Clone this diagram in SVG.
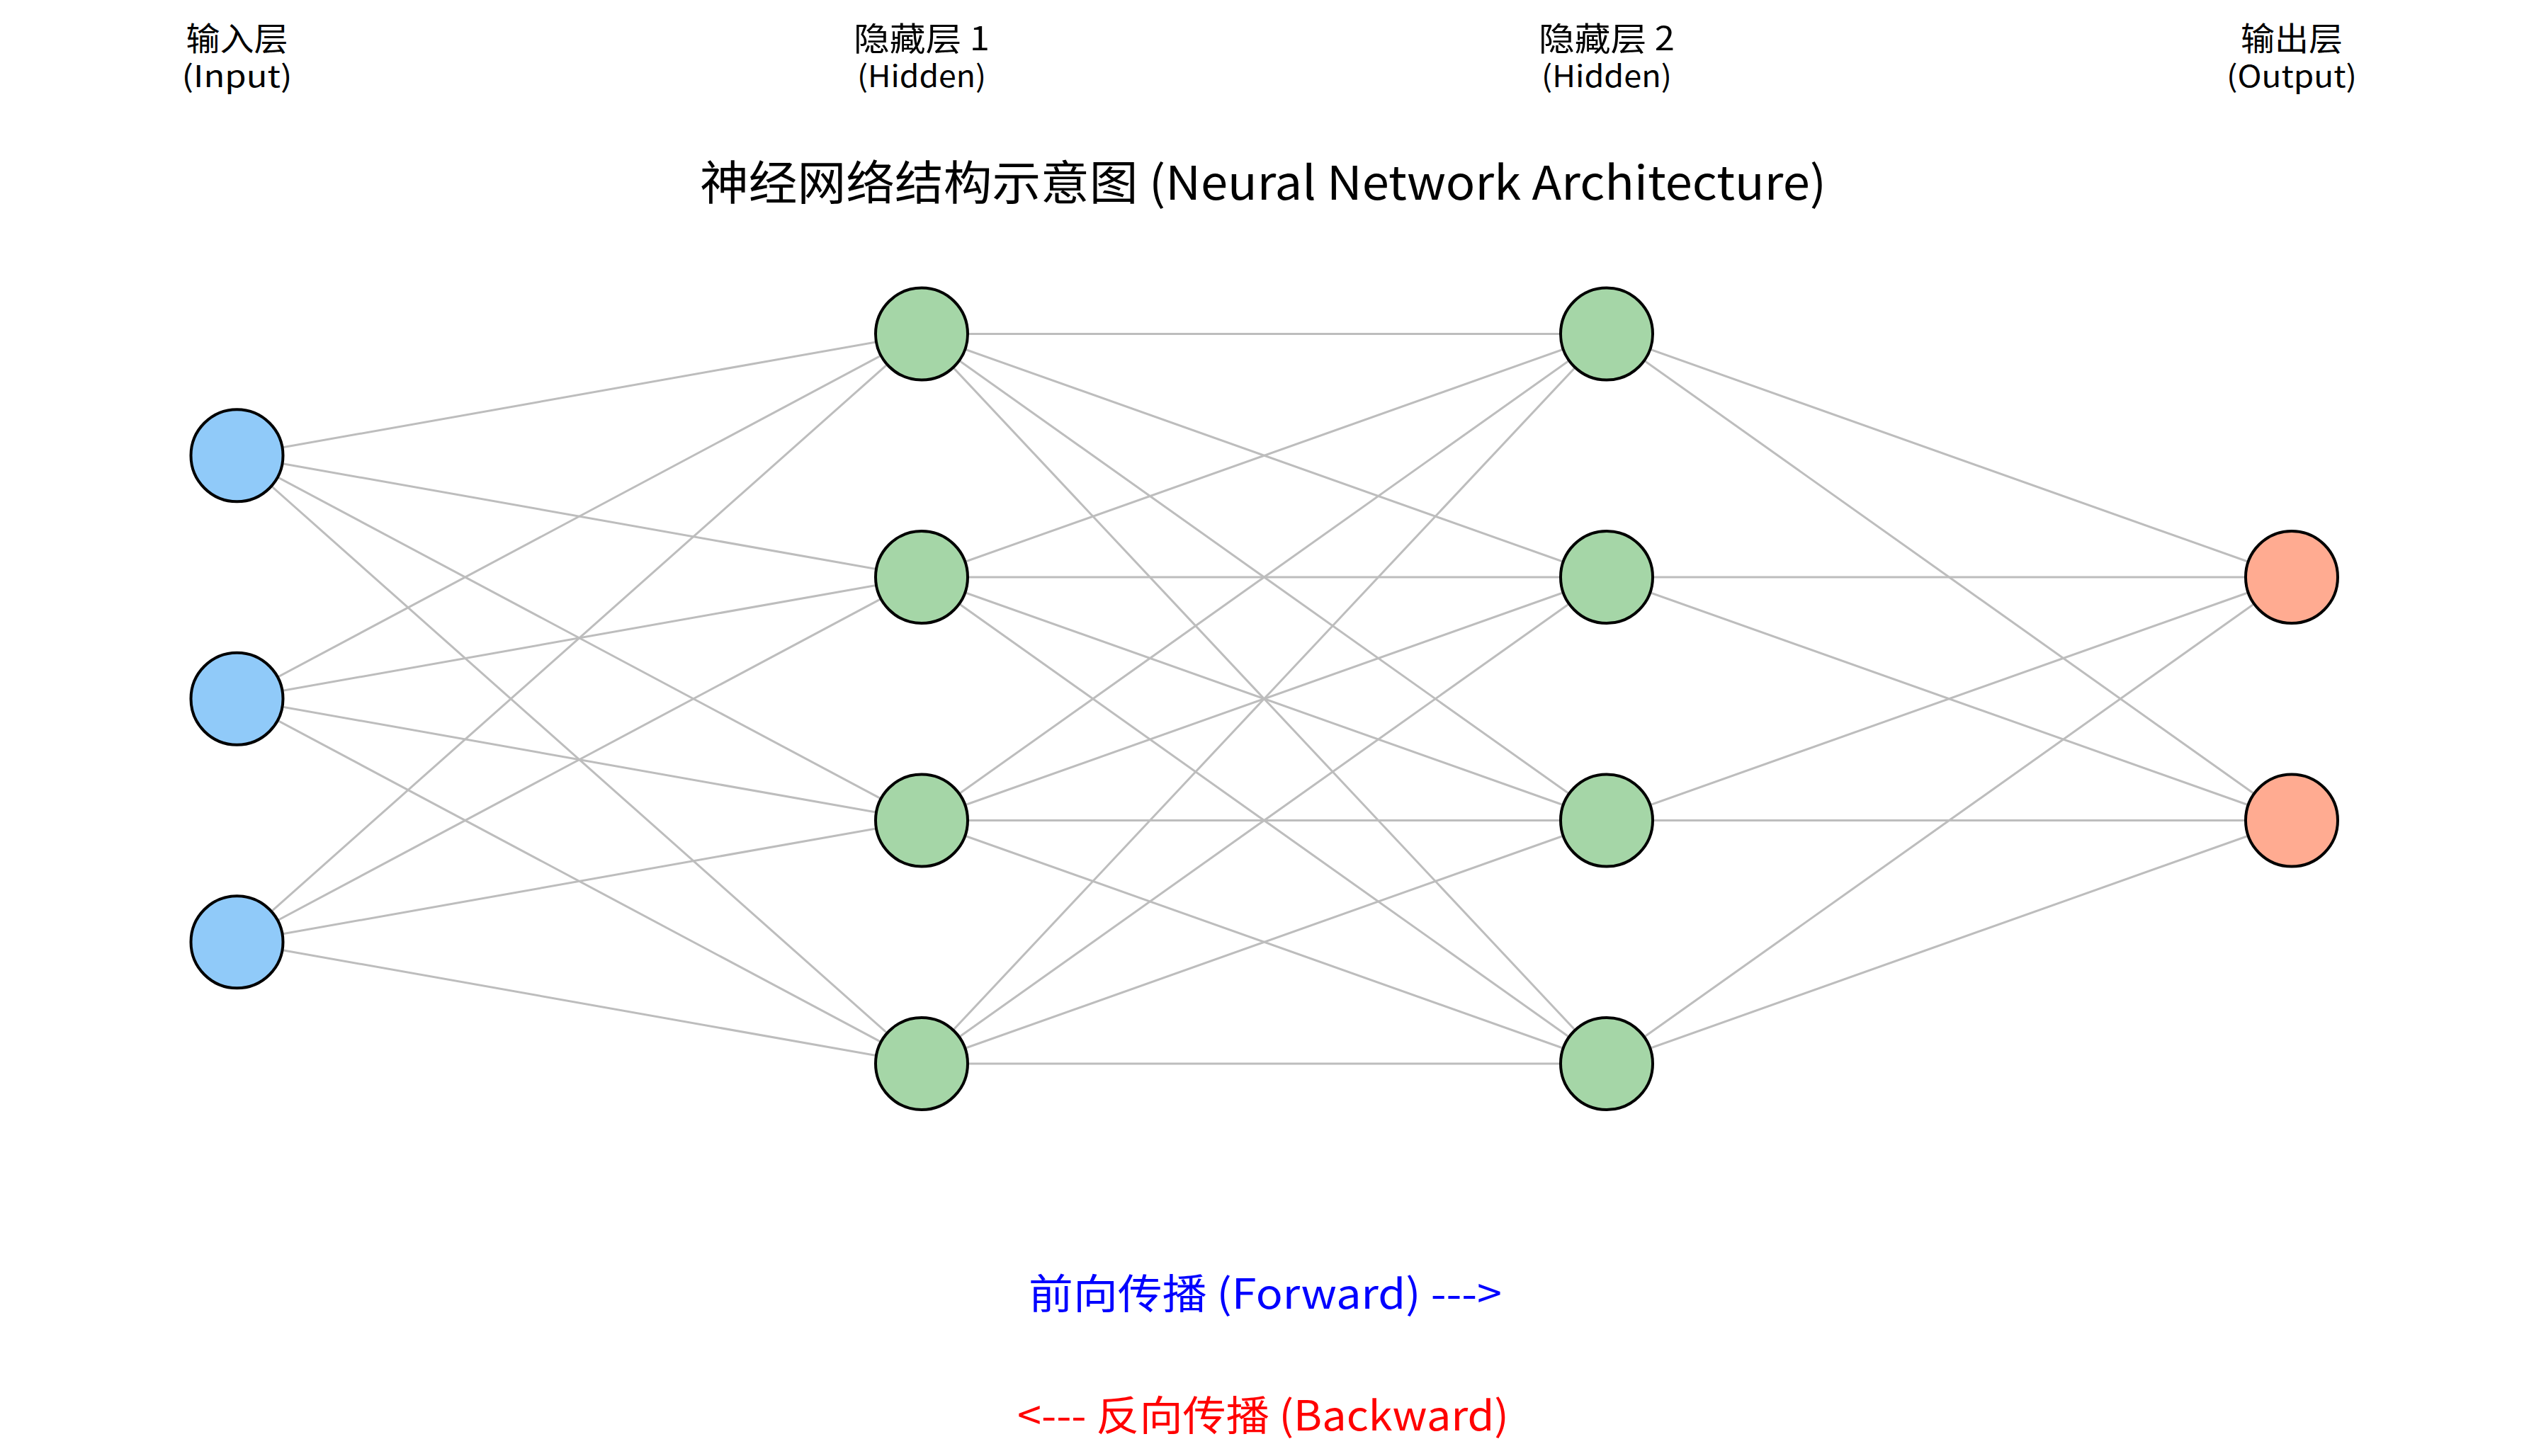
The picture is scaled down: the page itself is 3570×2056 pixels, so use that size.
<svg xmlns="http://www.w3.org/2000/svg" width="3570" height="2056" viewBox="0 0 3570 2056">
<style>
  .edge { stroke: #bdbdbd; stroke-width: 3; fill: none; }
  .node { stroke: #000; stroke-width: 4; }
  .in { fill: #90CAF9; }
  .hid { fill: #A5D6A7; }
  .out { fill: #FFAB91; }
  text { font-family: "Noto Sans CJK SC", "Liberation Sans", sans-serif; text-anchor: middle; }
  .l1 { font-size: 46px; fill: #000; }
  .l2 { font-size: 42px; fill: #000; }
  .title { font-size: 66px; fill: #000; }
  .fwd { font-size: 58px; fill: #0000ff; }
  .bwd { font-size: 58px; fill: #ff0000; }
</style>
<rect width="3570" height="2056" fill="#fff"/>

<g id="labels">
  <text class="l1" x="334.5" y="71" textLength="144" lengthAdjust="spacingAndGlyphs">输入层</text>
  <text class="l2" x="334.5" y="123" textLength="156" lengthAdjust="spacingAndGlyphs">(Input)</text>
  <text class="l1" x="1301" y="71" textLength="192" lengthAdjust="spacingAndGlyphs">隐藏层 1</text>
  <text class="l2" x="1301" y="123" textLength="182" lengthAdjust="spacingAndGlyphs">(Hidden)</text>
  <text class="l1" x="2268" y="71" textLength="192" lengthAdjust="spacingAndGlyphs">隐藏层 2</text>
  <text class="l2" x="2268" y="123" textLength="184" lengthAdjust="spacingAndGlyphs">(Hidden)</text>
  <text class="l1" x="3235" y="71" textLength="144" lengthAdjust="spacingAndGlyphs">输出层</text>
  <text class="l2" x="3235" y="123" textLength="184" lengthAdjust="spacingAndGlyphs">(Output)</text>
</g>

<text id="title" class="title" x="1783" y="282" textLength="1590" lengthAdjust="spacingAndGlyphs">神经网络结构示意图 (Neural Network Architecture)</text>

<g id="connectors">
  <line class="edge" x1="334.5" y1="643.25" x2="1301" y2="471.5"/>
  <line class="edge" x1="334.5" y1="643.25" x2="1301" y2="815"/>
  <line class="edge" x1="334.5" y1="643.25" x2="1301" y2="1158.5"/>
  <line class="edge" x1="334.5" y1="643.25" x2="1301" y2="1502"/>
  <line class="edge" x1="334.5" y1="986.75" x2="1301" y2="471.5"/>
  <line class="edge" x1="334.5" y1="986.75" x2="1301" y2="815"/>
  <line class="edge" x1="334.5" y1="986.75" x2="1301" y2="1158.5"/>
  <line class="edge" x1="334.5" y1="986.75" x2="1301" y2="1502"/>
  <line class="edge" x1="334.5" y1="1330.25" x2="1301" y2="471.5"/>
  <line class="edge" x1="334.5" y1="1330.25" x2="1301" y2="815"/>
  <line class="edge" x1="334.5" y1="1330.25" x2="1301" y2="1158.5"/>
  <line class="edge" x1="334.5" y1="1330.25" x2="1301" y2="1502"/>
  <line class="edge" x1="1301" y1="471.5" x2="2268" y2="471.5"/>
  <line class="edge" x1="1301" y1="471.5" x2="2268" y2="815"/>
  <line class="edge" x1="1301" y1="471.5" x2="2268" y2="1158.5"/>
  <line class="edge" x1="1301" y1="471.5" x2="2268" y2="1502"/>
  <line class="edge" x1="1301" y1="815" x2="2268" y2="471.5"/>
  <line class="edge" x1="1301" y1="815" x2="2268" y2="815"/>
  <line class="edge" x1="1301" y1="815" x2="2268" y2="1158.5"/>
  <line class="edge" x1="1301" y1="815" x2="2268" y2="1502"/>
  <line class="edge" x1="1301" y1="1158.5" x2="2268" y2="471.5"/>
  <line class="edge" x1="1301" y1="1158.5" x2="2268" y2="815"/>
  <line class="edge" x1="1301" y1="1158.5" x2="2268" y2="1158.5"/>
  <line class="edge" x1="1301" y1="1158.5" x2="2268" y2="1502"/>
  <line class="edge" x1="1301" y1="1502" x2="2268" y2="471.5"/>
  <line class="edge" x1="1301" y1="1502" x2="2268" y2="815"/>
  <line class="edge" x1="1301" y1="1502" x2="2268" y2="1158.5"/>
  <line class="edge" x1="1301" y1="1502" x2="2268" y2="1502"/>
  <line class="edge" x1="2268" y1="471.5" x2="3235" y2="815"/>
  <line class="edge" x1="2268" y1="471.5" x2="3235" y2="1158.5"/>
  <line class="edge" x1="2268" y1="815" x2="3235" y2="815"/>
  <line class="edge" x1="2268" y1="815" x2="3235" y2="1158.5"/>
  <line class="edge" x1="2268" y1="1158.5" x2="3235" y2="815"/>
  <line class="edge" x1="2268" y1="1158.5" x2="3235" y2="1158.5"/>
  <line class="edge" x1="2268" y1="1502" x2="3235" y2="815"/>
  <line class="edge" x1="2268" y1="1502" x2="3235" y2="1158.5"/>
</g>

<g id="in1"><circle class="node in" cx="334.5" cy="643.25" r="65"/></g>
<g id="in2"><circle class="node in" cx="334.5" cy="986.75" r="65"/></g>
<g id="in3"><circle class="node in" cx="334.5" cy="1330.25" r="65"/></g>

<g id="h1_1"><circle class="node hid" cx="1301" cy="471.5" r="65"/></g>
<g id="h1_2"><circle class="node hid" cx="1301" cy="815" r="65"/></g>
<g id="h1_3"><circle class="node hid" cx="1301" cy="1158.5" r="65"/></g>
<g id="h1_4"><circle class="node hid" cx="1301" cy="1502" r="65"/></g>

<g id="h2_1"><circle class="node hid" cx="2268" cy="471.5" r="65"/></g>
<g id="h2_2"><circle class="node hid" cx="2268" cy="815" r="65"/></g>
<g id="h2_3"><circle class="node hid" cx="2268" cy="1158.5" r="65"/></g>
<g id="h2_4"><circle class="node hid" cx="2268" cy="1502" r="65"/></g>

<g id="out1"><circle class="node out" cx="3235" cy="815" r="65"/></g>
<g id="out2"><circle class="node out" cx="3235" cy="1158.5" r="65"/></g>

<text id="forward" class="fwd" x="1786" y="1848" textLength="668" lengthAdjust="spacingAndGlyphs">前向传播 (Forward) ---&gt;</text>
<text id="backward" class="bwd" x="1783" y="2020" textLength="694" lengthAdjust="spacingAndGlyphs">&lt;--- 反向传播 (Backward)</text>
</svg>
